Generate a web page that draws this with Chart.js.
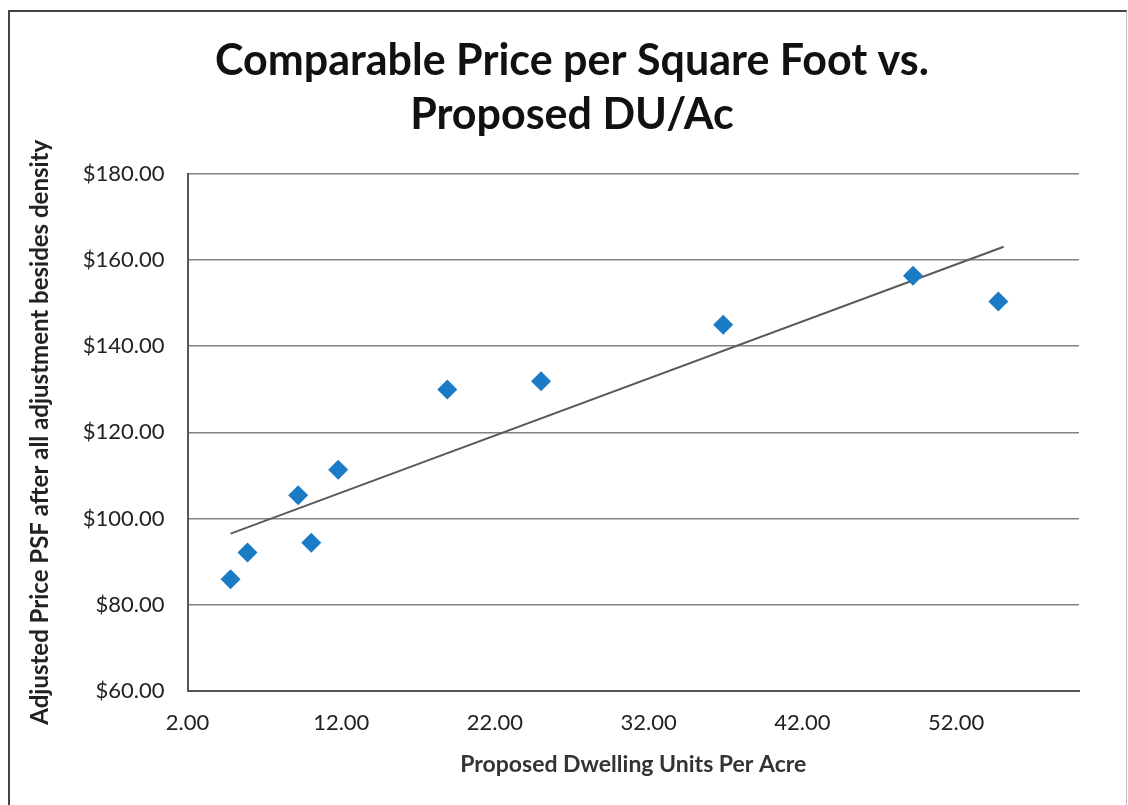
<!DOCTYPE html>
<html>
<head>
<meta charset="utf-8">
<script src="https://cdn.jsdelivr.net/npm/chart.js@4/dist/chart.umd.min.js"></script>
<style>
  body { margin: 0; background: #fff; }
  #wrap { position: absolute; left: 0; top: 0; width: 1128px; height: 805px; }
  #frame { position: absolute; left: 8px; top: 10px; width: 1116px; height: 800px;
           border-top: 2px solid #444; border-left: 2px solid #444; border-right: 1px solid #bbb; }
</style>
</head>
<body>
<div id="frame"></div>
<div id="wrap"><canvas id="priceChart"></canvas></div>
<script>
// comparable sales: density vs adjusted price
const duPerAcre = [4.8, 5.9, 9.2, 10.05, 11.8, 18.9, 25.0, 36.85, 49.2, 54.75];
const pricePsf = [85.9, 92.1, 105.4, 94.4, 111.3, 129.9, 131.8, 144.9, 156.3, 150.3];

// linear trendline end points
const trendX = [4.8, 55.1];
const trendY = [96.5, 163.0];

const xTickValues = [2, 12, 22, 32, 42, 52];

const points = duPerAcre.map((x, i) => ({ x: x, y: pricePsf[i] }));
const trend = trendX.map((x, i) => ({ x: x, y: trendY[i] }));

const fontFamily = "Lato, 'Open Sans', sans-serif";

new Chart(document.getElementById("priceChart").getContext("2d"), {
  type: "scatter",
  data: {
    datasets: [
      {
        label: "Comparables",
        data: points,
        pointStyle: "rectRot",
        pointRadius: 10,
        backgroundColor: "#1b7bc4",
        borderColor: "#1b7bc4",
        borderWidth: 0,
        order: 1,
      },
      {
        label: "Linear trend",
        type: "line",
        data: trend,
        borderColor: "#5a5a5a",
        borderWidth: 2,
        pointRadius: 0,
        fill: false,
        order: 2,
      },
    ],
  },
  options: {
    responsive: true,
    maintainAspectRatio: false,
    animation: false,
    layout: { padding: { left: 22, right: 6, top: 34, bottom: 23 } },
    plugins: {
      legend: { display: false },
      tooltip: { enabled: false },
      title: {
        display: true,
        text: ["Comparable Price per Square Foot vs.", "Proposed DU/Ac"],
        color: "#111",
        font: { family: fontFamily, size: 43, weight: "bold", lineHeight: 1.25 },
        padding: { top: 0, bottom: 32 },
      },
    },
    scales: {
      x: {
        type: "linear",
        min: 2,
        max: 60,
        afterBuildTicks: (axis) => {
          axis.ticks = xTickValues.map((v) => ({ value: v }));
        },
        grid: { display: false, drawTicks: false },
        border: { color: "#555", width: 2 },
        ticks: {
          color: "#222",
          padding: 19,
          font: { family: fontFamily, size: 22 },
          callback: (value) => value.toFixed(2),
        },
        title: {
          display: true,
          text: "Proposed Dwelling Units Per Acre",
          color: "#333",
          font: { family: fontFamily, size: 23, weight: "bold" },
          padding: { top: -5 },
        },
      },
      y: {
        min: 60,
        max: 180,
        ticks: {
          stepSize: 20,
          color: "#222",
          padding: 23,
          font: { family: fontFamily, size: 22 },
          callback: (value) => "$" + value.toFixed(2),
        },
        grid: { color: "#828282", lineWidth: 1.5, drawTicks: false },
        border: { color: "#555", width: 2 },
        title: {
          display: true,
          text: "Adjusted Price PSF after all adjustment besides density",
          color: "#222",
          font: { family: fontFamily, size: 24, weight: "bold" },
          padding: { bottom: 5 },
        },
      },
      // empty right-hand spacer so the title sits where the original has it
      spacer: {
        type: "linear",
        position: "right",
        grid: { display: false, drawTicks: false },
        border: { display: false },
        ticks: { display: false },
        afterFit: (axis) => {
          axis.width = 43;
        },
      },
    },
  },
});
</script>
</body>
</html>
